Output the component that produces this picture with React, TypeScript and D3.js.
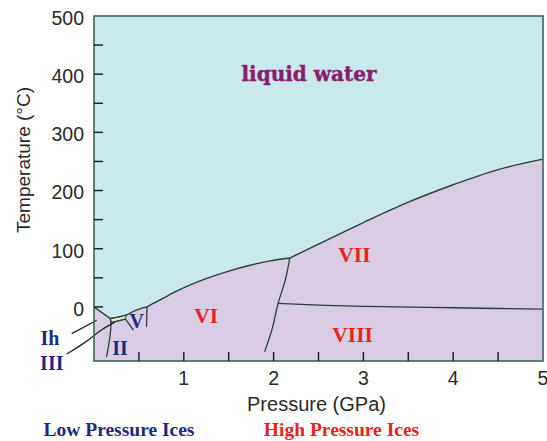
import React from "react";
import * as d3 from "d3";

// ---- Data (pressure in GPa, temperature in °C) ----
const MELT_IH_P = [0, 0.18];
const MELT_IH_T = [0, -20];
const MELT_III_P = [0.18, 0.25, 0.36];
const MELT_III_T = [-20, -18, -14];
const MELT_V_P = [0.36, 0.48, 0.59];
const MELT_V_T = [-14, -5, 0];
const MELT_VI_P = [0.59, 0.66, 0.77, 0.96, 1.24, 1.51, 1.75, 1.96, 2.18];
const MELT_VI_T = [0, 6, 15, 30, 48, 62, 72, 79, 84];
const MELT_VII_P = [2.18, 2.5, 3.0, 3.5, 4.0, 4.5, 5.0];
const MELT_VII_T = [84, 108, 145, 180, 210, 236, 254];

const VI_VII_P = [2.18, 2.13, 2.05, 1.98, 1.9];
const VI_VII_T = [84, 46, 6, -40, -77];
const VII_VIII_P = [2.05, 2.5, 3.0, 4.0, 5.0];
const VII_VIII_T = [6, 3, 1, -1.5, -4];
const IH_II_P = [0.18, 0.19, 0.14];
const IH_II_T = [-20, -27, -86];
const III_BOTTOM_P = [0.19, 0.35];
const III_BOTTOM_T = [-27, -21];
const II_V_P = [0.35, 0.44];
const II_V_T = [-21, -40];
const V_VI_P = [0.59, 0.585];
const V_VI_T = [0, -34];

const LEADER_IH_P = [-0.248, 0.03];
const LEADER_IH_T = [-46, -23];
const LEADER_III_P = [-0.304, -0.081, 0.067, 0.234];
const LEADER_III_T = [-81, -60, -40, -26];

const X_TICKS = [1, 2, 3, 4, 5];
const X_MINOR = [0.5, 1, 1.5, 2, 2.5, 3, 3.5, 4, 4.5];
const Y_TICKS = [0, 100, 200, 300, 400, 500];
const Y_MINOR = [0, 50, 100, 150, 200, 250, 300, 350, 400, 450];

const ICE_LABELS = ["Ih", "III", "II", "V", "VI", "VII", "VIII"];
const ICE_LABEL_P = [-0.49, -0.47, 0.29, 0.475, 1.25, 2.9, 2.88];
const ICE_LABEL_T = [-53, -96, -70, -25, -15, 90, -47];
const ICE_LABEL_COLOR = ["#1f2a7e", "#1f2a7e", "#1f2a7e", "#1f2a7e", "#e8231e", "#e8231e", "#e8231e"];

const W = 547;
const H = 441;

const zip = (ps: number[], ts: number[]) => ps.map((p, i) => [p, ts[i]] as [number, number]);

export default function App() {
  const x = d3.scaleLinear().domain([0, 5]).range([94, 543]);
  const y = d3.scaleLinear().domain([-93, 500]).range([361, 16]);

  const line = d3
    .line<[number, number]>()
    .x((d) => x(d[0]))
    .y((d) => y(d[1]))
    .curve(d3.curveMonotoneX);
  const lineY = d3
    .line<[number, number]>()
    .x((d) => x(d[0]))
    .y((d) => y(d[1]))
    .curve(d3.curveMonotoneY);
  const lineLin = d3
    .line<[number, number]>()
    .x((d) => x(d[0]))
    .y((d) => y(d[1]));
  const lineBasis = d3
    .line<[number, number]>()
    .x((d) => x(d[0]))
    .y((d) => y(d[1]))
    .curve(d3.curveBasis);

  const meltSegs = [
    zip(MELT_IH_P, MELT_IH_T),
    zip(MELT_III_P, MELT_III_T),
    zip(MELT_V_P, MELT_V_T),
    zip(MELT_VI_P, MELT_VI_T),
    zip(MELT_VII_P, MELT_VII_T),
  ];
  const meltPaths = meltSegs.map((s) => line(s) as string);
  const liquidPath =
    meltPaths.map((p, i) => (i === 0 ? p : "L" + p.slice(1))).join("") +
    `L${x(5)},${y(500)}L${x(0)},${y(500)}Z`;

  const iiiPatch =
    (line(zip(MELT_III_P, MELT_III_T)) as string) +
    "L" +
    (lineLin(zip(III_BOTTOM_P.slice().reverse(), III_BOTTOM_T.slice().reverse())) as string).slice(1) +
    "Z";

  const boundaries = [
    zip(VI_VII_P, VI_VII_T),
    zip(VII_VIII_P, VII_VIII_T),
    zip(IH_II_P, IH_II_T),
    zip(III_BOTTOM_P, III_BOTTOM_T),
    zip(II_V_P, II_V_T),
    zip(V_VI_P, V_VI_T),
  ];

  const lineColor = "#2c3f36";
  const frameColor = "#3d6555";
  const sans = "'Liberation Sans', Arial, Helvetica, sans-serif";
  const serif = "'Liberation Serif', 'Times New Roman', serif";

  return (
    <svg width={W} height={H} style={{ position: "absolute", left: 0, top: 0, background: "#fff" }}>
      {/* ice background */}
      <rect x={x(0)} y={y(500)} width={x(5) - x(0)} height={y(-93) - y(500)} fill="#d9cde6" />
      {/* liquid region */}
      <path d={liquidPath} fill="#c9e9ec" />
      {/* ice III patch */}
      <path d={iiiPatch} fill="#e2efdc" stroke={lineColor} strokeWidth={1} />

      {/* phase boundaries */}
      {meltPaths.map((d, i) => (
        <path key={"m" + i} d={d} fill="none" stroke={lineColor} strokeWidth={1.4} />
      ))}
      {boundaries.map((b, i) => (
        <path
          key={"b" + i}
          d={(i === 1 ? line(b) : lineY(b)) as string}
          fill="none"
          stroke={lineColor}
          strokeWidth={1.3}
        />
      ))}

      {/* leaders */}
      <path d={lineLin(zip(LEADER_IH_P, LEADER_IH_T)) as string} fill="none" stroke="#222" strokeWidth={1.3} />
      <path d={lineBasis(zip(LEADER_III_P, LEADER_III_T)) as string} fill="none" stroke="#222" strokeWidth={1.3} />

      {/* frame */}
      <rect
        x={x(0)}
        y={y(500)}
        width={x(5) - x(0)}
        height={y(-93) - y(500)}
        fill="none"
        stroke={frameColor}
        strokeWidth={1.6}
      />

      {/* ticks */}
      {X_MINOR.map((t) => (
        <line key={"xt" + t} x1={x(t)} x2={x(t)} y1={y(-93)} y2={y(-93) - 9} stroke="#222" strokeWidth={1.5} />
      ))}
      {Y_MINOR.map((t) => (
        <line key={"yt" + t} x1={x(0)} x2={x(0) + 9} y1={y(t)} y2={y(t)} stroke="#222" strokeWidth={1.5} />
      ))}

      {/* tick labels */}
      {X_TICKS.map((t) => (
        <text key={"xl" + t} x={x(t)} y={385} textAnchor="middle" fontFamily={sans} fontSize={19.5} fill="#2a2a2a">
          {t}
        </text>
      ))}
      {Y_TICKS.map((t) => (
        <text
          key={"yl" + t}
          x={84}
          y={y(t) + 2}
          dy="0.35em"
          textAnchor="end"
          fontFamily={sans}
          fontSize={19.5}
          fill="#2a2a2a"
        >
          {t}
        </text>
      ))}

      {/* axis titles */}
      <text x={316.5} y={411} textAnchor="middle" fontFamily={sans} fontSize={20} fill="#2a2a2a">
        Pressure (GPa)
      </text>
      <text
        transform={`translate(23,160) rotate(-90)`}
        dy="0.35em"
        textAnchor="middle"
        fontFamily={sans}
        fontSize={19}
        fill="#2a2a2a"
      >
        Temperature (°C)
      </text>

      {/* region labels */}
      <text
        x={309}
        y={81}
        textAnchor="middle"
        fontFamily="'DejaVu Serif', serif"
        fontWeight="bold"
        fontSize={20}
        fill="#8a1d6b"
        stroke="#8a1d6b"
        strokeWidth={0.4}
      >
        liquid water
      </text>
      {ICE_LABELS.map((lab, i) => (
        <text
          key={lab}
          x={x(ICE_LABEL_P[i])}
          y={y(ICE_LABEL_T[i])}
          dy="0.35em"
          textAnchor="middle"
          fontFamily={serif}
          fontWeight="bold"
          fontSize={i >= 4 ? 21.5 : 20}
          fill={ICE_LABEL_COLOR[i]}
        >
          {lab}
        </text>
      ))}

      {/* legend captions */}
      <text x={119} y={436} textAnchor="middle" fontFamily={serif} fontWeight="bold" fontSize={19.5} fill="#1f2a7e">
        Low Pressure Ices
      </text>
      <text x={341.5} y={436} textAnchor="middle" fontFamily={serif} fontWeight="bold" fontSize={19.5} fill="#e8231e">
        High Pressure Ices
      </text>
    </svg>
  );
}
